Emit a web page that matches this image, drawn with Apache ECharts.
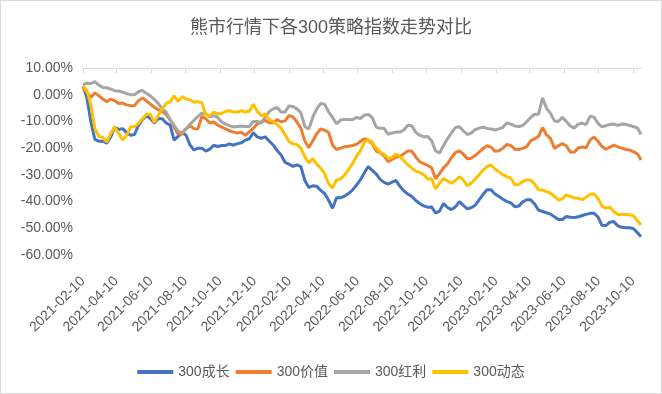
<!DOCTYPE html>
<html><head><meta charset="utf-8">
<script src="https://cdn.jsdelivr.net/npm/echarts@6/dist/echarts.min.js"></script>
<style>html,body{margin:0;padding:0;background:#fff}#c{width:662px;height:394px;box-sizing:border-box;border:1px solid #d9d9d9}</style>
</head><body><div id="c"></div>
<script>
const chartTitle = '熊市行情下各300策略指数走势对比';
const seriesNames = ['300成长', '300价值', '300红利', '300动态'];
const tickLabels = ['2021-02-10','2021-04-10','2021-06-10','2021-08-10','2021-10-10','2021-12-10',
  '2022-02-10','2022-04-10','2022-06-10','2022-08-10','2022-10-10','2022-12-10',
  '2023-02-10','2023-04-10','2023-06-10','2023-08-10','2023-10-10'];
const dates = [
  '2021-02-10','2021-02-17','2021-02-24','2021-03-03','2021-03-10','2021-03-17','2021-03-24','2021-03-31','2021-04-07','2021-04-14',
  '2021-04-21','2021-04-28','2021-05-05','2021-05-12','2021-05-19','2021-05-26','2021-06-02','2021-06-09','2021-06-16','2021-06-23',
  '2021-06-30','2021-07-07','2021-07-14','2021-07-21','2021-07-28','2021-08-04','2021-08-11','2021-08-18','2021-08-25','2021-09-01',
  '2021-09-08','2021-09-15','2021-09-22','2021-09-29','2021-10-06','2021-10-13','2021-10-20','2021-10-27','2021-11-03','2021-11-10',
  '2021-11-17','2021-11-24','2021-12-01','2021-12-08','2021-12-15','2021-12-22','2021-12-29','2022-01-05','2022-01-12','2022-01-19',
  '2022-01-26','2022-02-02','2022-02-09','2022-02-16','2022-02-23','2022-03-02','2022-03-09','2022-03-16','2022-03-23','2022-03-30',
  '2022-04-06','2022-04-13','2022-04-20','2022-04-27','2022-05-04','2022-05-11','2022-05-18','2022-05-25','2022-06-01','2022-06-08',
  '2022-06-15','2022-06-22','2022-06-29','2022-07-06','2022-07-13','2022-07-20','2022-07-27','2022-08-03','2022-08-10','2022-08-17',
  '2022-08-24','2022-08-31','2022-09-07','2022-09-14','2022-09-21','2022-09-28','2022-10-05','2022-10-12','2022-10-19','2022-10-26',
  '2022-11-02','2022-11-09','2022-11-16','2022-11-23','2022-11-30','2022-12-07','2022-12-14','2022-12-21','2022-12-28','2023-01-04',
  '2023-01-11','2023-01-18','2023-01-25','2023-02-01','2023-02-08','2023-02-15','2023-02-22','2023-03-01','2023-03-08','2023-03-15',
  '2023-03-22','2023-03-29','2023-04-05','2023-04-12','2023-04-19','2023-04-26','2023-05-03','2023-05-10','2023-05-17','2023-05-24',
  '2023-05-31','2023-06-07','2023-06-14','2023-06-21','2023-06-28','2023-07-05','2023-07-12','2023-07-19','2023-07-26','2023-08-02',
  '2023-08-09','2023-08-16','2023-08-23','2023-08-30','2023-09-06','2023-09-13','2023-09-20','2023-09-27','2023-10-04','2023-10-11',
  '2023-10-18','2023-10-24'];
const growth = [
  3.3,-1.2,-10.2,-16.7,-17.4,-17.4,-18.1,-15.8,-12.2,-13.0,
  -12.7,-14.2,-15.2,-14.9,-11.5,-9.3,-7.9,-8.9,-10.6,-8.9,
  -9.0,-10.6,-11.4,-17.0,-15.6,-14.3,-15.1,-18.8,-20.7,-20.0,
  -20.0,-21.1,-20.4,-18.9,-19.4,-19.0,-19.0,-18.4,-18.9,-18.3,
  -18.0,-17.0,-16.5,-14.2,-15.8,-16.3,-15.8,-17.3,-18.8,-20.9,
  -22.6,-25.3,-26.0,-26.8,-26.3,-26.9,-32.1,-34.7,-34.1,-34.3,
  -35.8,-37.0,-39.5,-42.5,-38.6,-38.6,-38.0,-37.0,-35.7,-33.9,
  -31.9,-29.3,-26.9,-28.3,-29.6,-31.7,-32.8,-33.5,-32.7,-32.1,
  -34.3,-36.0,-37.2,-38.1,-39.6,-40.7,-41.6,-42.1,-42.0,-44.3,
  -43.6,-40.7,-42.2,-43.0,-42.0,-40.0,-41.4,-42.7,-42.3,-41.4,
  -39.4,-37.3,-35.6,-35.6,-37.2,-38.1,-39.1,-40.0,-40.5,-41.9,
  -41.7,-40.1,-39.3,-39.3,-40.9,-43.2,-43.7,-44.2,-44.7,-45.7,
  -46.7,-46.7,-45.6,-45.9,-46.0,-45.7,-45.2,-44.8,-44.4,-44.4,
  -45.7,-48.9,-49.0,-47.7,-47.5,-49.1,-49.6,-49.8,-49.8,-50.2,
  -51.7,-53.2];
const valueIdx = [
  2.7,0.7,-1.0,0.7,-0.4,-1.6,-2.6,-1.6,-2.3,-3.3,
  -3.1,-3.8,-4.1,-4.0,-2.3,-1.2,-2.3,-3.5,-4.7,-5.6,
  -6.2,-7.4,-9.5,-12.1,-14.8,-14.7,-12.8,-11.6,-12.7,-12.8,
  -8.1,-9.0,-10.6,-10.2,-11.4,-12.1,-12.8,-13.5,-14.0,-14.3,
  -14.1,-15.2,-13.8,-12.6,-10.9,-10.4,-9.6,-10.5,-10.5,-9.3,
  -10.1,-9.8,-7.7,-8.3,-10.2,-12.6,-17.3,-19.9,-17.2,-14.6,
  -12.8,-13.3,-14.1,-18.9,-20.5,-20.0,-19.5,-19.3,-19.0,-18.6,
  -17.5,-16.5,-17.0,-18.3,-21.1,-21.7,-22.8,-25.1,-24.2,-23.3,
  -23.1,-22.1,-21.1,-21.1,-23.3,-25.1,-25.8,-26.5,-27.3,-31.5,
  -29.5,-27.4,-25.9,-23.6,-21.7,-21.0,-22.2,-24.0,-23.8,-22.8,
  -21.5,-20.1,-19.1,-19.6,-21.2,-21.0,-20.0,-18.6,-19.0,-20.4,
  -20.5,-20.1,-19.4,-17.3,-16.5,-15.6,-12.3,-15.0,-16.3,-20.1,
  -19.1,-18.3,-19.1,-21.4,-21.5,-19.9,-19.6,-19.9,-16.9,-15.8,
  -17.4,-19.4,-20.4,-19.6,-18.9,-19.5,-20.0,-20.5,-20.7,-21.4,
  -22.2,-24.4];
const dividend = [
  3.8,4.3,4.2,4.9,3.6,2.7,2.6,2.1,1.5,1.4,
  1.0,0.4,0.0,0.0,1.1,1.6,0.5,-0.4,-1.7,-3.3,
  -5.3,-6.5,-9.3,-11.5,-13.6,-14.3,-12.8,-11.0,-9.6,-8.1,
  -6.9,-7.2,-8.3,-7.8,-8.5,-10.2,-11.0,-11.6,-12.1,-11.9,
  -11.7,-11.9,-11.9,-10.0,-10.0,-10.4,-8.4,-6.3,-5.3,-4.8,
  -6.5,-6.5,-4.2,-4.4,-5.3,-6.8,-11.9,-12.8,-8.5,-5.3,
  -3.3,-3.6,-6.4,-8.5,-10.9,-9.5,-9.3,-9.3,-9.4,-8.5,
  -8.9,-7.7,-7.4,-8.5,-12.1,-12.6,-12.6,-14.8,-14.3,-14.0,
  -14.0,-13.2,-11.4,-11.6,-14.1,-15.2,-15.7,-15.6,-17.2,-21.0,
  -21.8,-19.0,-16.5,-14.3,-12.3,-12.0,-13.5,-14.9,-14.4,-13.1,
  -12.5,-12.2,-12.6,-12.8,-13.2,-12.8,-12.2,-10.6,-11.0,-11.7,
  -11.9,-11.5,-10.1,-8.5,-7.3,-7.3,-1.2,-5.0,-7.0,-9.8,
  -10.0,-8.4,-10.0,-11.7,-12.5,-11.0,-10.6,-11.2,-8.0,-8.4,
  -10.7,-12.0,-11.6,-11.1,-11.0,-11.5,-11.0,-11.1,-11.5,-12.0,
  -12.5,-14.9];
const dynamic = [
  3.3,1.7,-4.1,-12.7,-15.6,-16.0,-17.7,-14.6,-12.0,-14.4,
  -17.0,-15.3,-12.0,-12.0,-10.7,-9.0,-7.3,-7.3,-10.4,-7.7,
  -5.3,-3.2,-2.7,-0.4,-2.5,-0.7,-1.6,-1.9,-2.8,-2.6,
  -3.0,-7.5,-7.8,-6.5,-7.2,-7.0,-6.2,-6.0,-6.5,-6.5,
  -6.0,-6.5,-6.2,-3.6,-6.2,-7.9,-7.2,-9.3,-10.0,-11.2,
  -12.6,-14.9,-17.5,-18.4,-18.6,-20.1,-23.2,-25.5,-24.0,-25.9,
  -27.5,-29.5,-33.3,-35.0,-31.9,-31.6,-30.1,-28.1,-25.9,-23.1,
  -21.0,-17.9,-16.8,-17.8,-20.0,-21.5,-22.3,-23.8,-23.5,-22.3,
  -23.1,-24.7,-26.2,-27.5,-28.6,-29.1,-29.9,-31.6,-31.5,-35.3,
  -33.1,-31.4,-32.3,-33.1,-32.1,-30.7,-32.0,-34.1,-33.1,-31.6,
  -30.0,-28.3,-26.9,-26.3,-27.8,-28.9,-30.0,-30.7,-31.2,-33.7,
  -33.6,-32.5,-31.9,-31.9,-33.5,-35.6,-35.7,-36.3,-36.8,-38.1,
  -39.4,-39.0,-37.5,-38.1,-38.6,-38.8,-39.3,-38.4,-37.3,-37.2,
  -38.8,-41.7,-42.5,-42.1,-43.7,-44.8,-44.8,-44.8,-44.9,-45.4,
  -47.3,-48.8];

function ts(s) { const p = s.split('-'); return Date.UTC(+p[0], +p[1] - 1, +p[2]); }
const tickTs = tickLabels.map(ts);
const xMin = ts(dates[0]), xMax = ts(dates[dates.length - 1]);
const font = "'Liberation Sans','Noto Sans CJK SC',sans-serif";
const colors = ['#4472C4', '#ED7D31', '#A5A5A5', '#FFC000'];
const seriesData = [growth, valueIdx, dividend, dynamic];

const chart = echarts.init(document.getElementById('c'), null, { renderer: 'canvas' });
chart.setOption({
  animation: false,
  backgroundColor: '#fff',
  title: { text: chartTitle, left: 'center', top: 13,
    textStyle: { fontSize: 18, fontWeight: 'normal', color: '#595959', fontFamily: font } },
  legend: { top: 359, left: 'center', icon: 'rect', itemWidth: 36, itemHeight: 4, itemGap: 6,
    textStyle: { fontSize: 14, color: '#595959', fontFamily: font },
    data: seriesNames },
  grid: { left: 82, right: 20, top: 67, bottom: 138 },
  xAxis: [
    { type: 'value', min: xMin, max: xMax, position: 'bottom',
      axisLine: { show: false }, axisTick: { show: false }, splitLine: { show: false },
      axisLabel: { customValues: tickTs, rotate: 45, margin: 24, fontSize: 14, color: '#595959', fontFamily: font,
        showMinLabel: true, showMaxLabel: true,
        formatter: function (v) { const i = tickTs.indexOf(v); return i >= 0 ? tickLabels[i] : ''; } } },
    { type: 'value', min: xMin, max: xMax, position: 'top',
      axisLine: { show: true, onZero: true, lineStyle: { color: '#d9d9d9', width: 1 } },
      axisTick: { show: true, customValues: tickTs, inside: true, length: 5, lineStyle: { color: '#d9d9d9' } },
      axisLabel: { show: false }, splitLine: { show: false } }
  ],
  yAxis: { type: 'value', min: -60, max: 10, interval: 10,
    axisLine: { show: false }, axisTick: { show: false }, splitLine: { show: false },
    axisLabel: { formatter: function (v) { return v.toFixed(2) + '%'; }, fontSize: 14, color: '#595959', margin: 10, fontFamily: font } },
  series: seriesData.map(function (d, i) {
    return { name: seriesNames[i], type: 'line', xAxisIndex: 0, showSymbol: false, symbol: 'none',
      data: dates.map(function (t, j) { return [ts(t), d[j]]; }),
      lineStyle: { width: 3, color: colors[i] }, itemStyle: { color: colors[i] }, z: 2 + i };
  })
});
</script></body></html>
